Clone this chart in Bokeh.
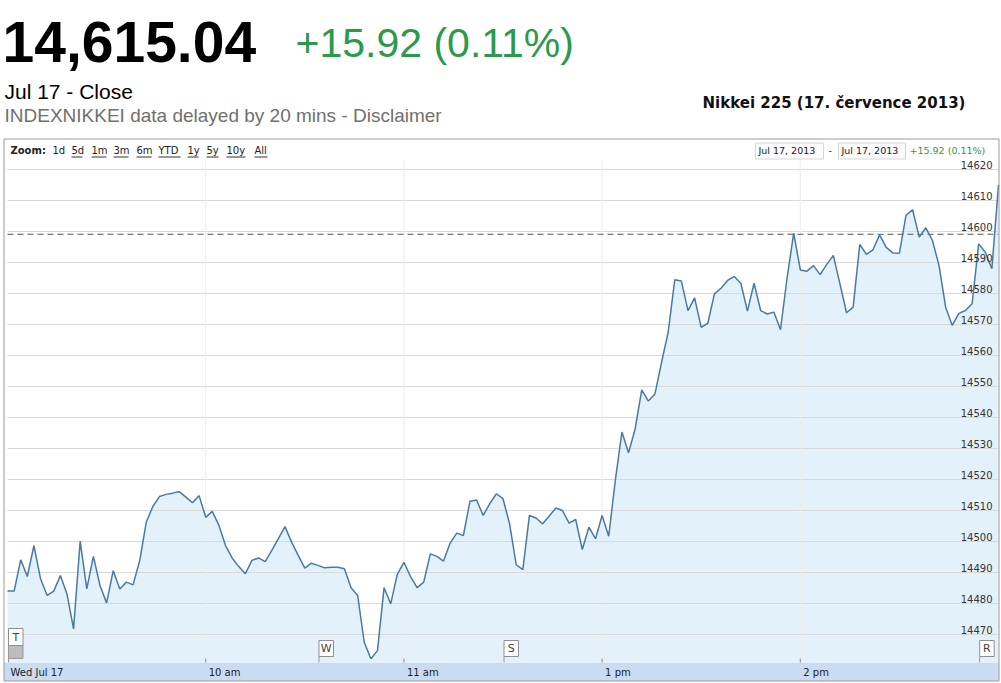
from bokeh.plotting import figure
from bokeh.models import Range1d
from bokeh.core.properties import value
from bokeh.embed import file_html
from bokeh.resources import INLINE

# ---------------- data ----------------
price = [
    14484.0, 14484.0, 14494.1, 14488.7, 14498.7, 14488.0, 14482.6, 14484.0, 14489.0, 14483.1,
    14471.8, 14500.1, 14484.7, 14495.2, 14485.8, 14480.2, 14490.6, 14484.7, 14486.9, 14486.0,
    14493.7, 14506.2, 14511.3, 14514.5, 14515.2, 14515.6, 14516.1, 14514.3, 14512.5, 14514.8,
    14507.8, 14509.7, 14505.2, 14498.7, 14494.7, 14491.9, 14489.6, 14493.9, 14494.7, 14493.5,
    14497.1, 14500.9, 14504.8, 14499.8, 14495.5, 14491.4, 14493.0, 14492.3, 14491.5, 14491.7,
    14491.7, 14491.2, 14485.1, 14482.6, 14467.5, 14462.2, 14464.8, 14485.1, 14479.9, 14489.4,
    14493.3, 14488.7, 14485.1, 14486.9, 14496.0, 14495.2, 14493.7, 14499.5, 14502.7, 14501.9,
    14513.0, 14513.4, 14508.4, 14512.2, 14515.4, 14513.8, 14505.7, 14492.5, 14490.9, 14508.4,
    14507.6, 14505.7, 14508.2, 14510.8, 14510.0, 14505.9, 14507.1, 14497.4, 14504.6, 14500.9,
    14508.4, 14501.7, 14519.7, 14535.3, 14528.6, 14536.3, 14548.9, 14545.3, 14547.6, 14557.8,
    14567.5, 14584.4, 14584.0, 14574.5, 14578.6, 14569.1, 14570.4, 14579.9, 14581.7, 14584.2,
    14585.5, 14583.3, 14574.3, 14583.3, 14574.5, 14573.4, 14574.0, 14568.3, 14585.0, 14599.5,
    14587.6, 14587.2, 14589.0, 14586.1, 14589.4, 14592.3, 14583.1, 14573.8, 14575.6, 14595.8,
    14592.6, 14594.1, 14598.9, 14594.9, 14593.1, 14593.0, 14605.2, 14607.0, 14598.2, 14601.2,
    14597.1, 14589.0, 14575.6, 14569.7, 14573.6, 14574.5, 14576.7, 14596.0, 14593.3, 14588.0,
    14615.04,
]
# trading minutes since the open (lunch break removed), one quote every 2 minutes
session_minutes = list(range(0, 301, 2))

x_tick_minutes = [0, 60, 120, 180, 240]
x_tick_labels = ["Wed Jul 17", "10 am", "11 am", "1 pm", "2 pm"]
y_ticks = list(range(14470, 14621, 10))

prev_close = 14599.12
last_close_text = "14,615.04"
change_text = "+15.92 (0.11%)"
date_line = "Jul 17 - Close"
source_line = "INDEXNIKKEI data delayed by 20 mins - Disclaimer"
chart_title = "Nikkei 225 (17. července 2013)"
date_from = "Jul 17, 2013"
date_to = "Jul 17, 2013"

zoom_links = ["1d", "5d", "1m", "3m", "6m", "YTD", "1y", "5y", "10y", "All"]
zoom_underlined = [False, True, True, True, True, True, True, True, True, True]

flag_minutes = [0, 94, 150, 294]
flag_letters = ["T", "W", "S", "R"]

# ---------------- geometry (canvas px, origin top-left) ----------------
W, H = 1000, 682
PL, PR = 7.0, 998.0      # plot area
PT, PB = 160.0, 662.0
ppx = (PR - PL) / 300.0  # px per trading minute
ppy = 3.1                # px per index point
YREF_VAL, YREF_C = 14600.0, 231.0


def X(c):
    return (c - PL) / ppx


def Y(c):
    return YREF_VAL + (YREF_C - c) / ppy


CHART_FONT = "DejaVu Sans"
HEAD_FONT = "Liberation Sans"

p = figure(width=W, height=H, x_range=Range1d(X(0), X(W)), y_range=Range1d(Y(H), Y(0)),
           output_backend="svg", toolbar_location=None, min_border=0,
           x_axis_location=None, y_axis_location=None)
p.grid.visible = False
p.outline_line_color = None
p.background_fill_color = "white"
p.border_fill_color = "white"


def txt(cx, cy, text, font, size, color="#000000", style="normal", align="left"):
    # cy is the vertical centre of the text
    p.text(x=[X(cx)], y=[Y(cy)], text=[text], text_font=value(font),
           text_font_size=value(size), text_font_style=style, text_color=color,
           text_align=align, text_baseline="middle")


# ---------------- header ----------------
txt(2, 41.5, last_close_text, HEAD_FONT, "57px", "#000000", "bold")
txt(295, 42, change_text, HEAD_FONT, "41px", "#2b9a4a")
txt(4, 91, date_line, HEAD_FONT, "21px", "#000000")
txt(4, 115, source_line, HEAD_FONT, "19px", "#707070")
txt(702, 102, chart_title, CHART_FONT, "15px", "#111111", "bold")

# ---------------- chart ----------------
# axis band
p.quad(left=X(3.5), right=X(998.5), bottom=Y(680.5), top=Y(PB), fill_color="#c9dcf2",
       line_color=None)

# area under the line
p.varea(x=session_minutes, y1=Y(PB), y2=price, fill_color="#e3f1fb")

# horizontal grid lines
p.segment(x0=[X(PL)] * len(y_ticks), x1=[X(PR)] * len(y_ticks), y0=y_ticks, y1=y_ticks,
          line_color="#d9d9d9", line_width=1)
# vertical grid lines at the time ticks
p.segment(x0=x_tick_minutes[1:], x1=x_tick_minutes[1:], y0=[Y(PT)] * 4, y1=[Y(PB)] * 4,
          line_color="#ececec", line_width=1)
# tick marks
p.segment(x0=x_tick_minutes[1:], x1=x_tick_minutes[1:], y0=[Y(PB - 4)] * 4, y1=[Y(PB)] * 4,
          line_color="#8c8c8c", line_width=1)

# previous close
p.segment(x0=[X(PL)], x1=[X(PR)], y0=[prev_close], y1=[prev_close], line_color="#555555",
          line_width=1.2, line_dash="6 4")

# price line
p.line(session_minutes, price, line_color="#4a7aa3", line_width=1.5)

# y tick labels inside plot, right side
p.text(x=[X(992)] * len(y_ticks), y=y_ticks, text=[str(v) for v in y_ticks],
       text_align="right", text_baseline="bottom", y_offset=-1,
       text_font=value(CHART_FONT), text_font_size=value("10px"), text_color="#333333")

# x tick labels in the band
p.text(x=x_tick_minutes, y=[Y(672)] * len(x_tick_minutes), text=x_tick_labels,
       text_align="left", text_baseline="middle", x_offset=3,
       text_font=value(CHART_FONT), text_font_size=value("10px"), text_color="#222222")

# zoom bar
txt(10, 150, "Zoom:", CHART_FONT, "10px", "#222222", "bold")
zoom_ref_x = [52, 71, 91, 113, 136, 158, 187, 206, 226, 254]
zoom_ref_end = [63, 82, 106, 128, 151, 180, 198, 218, 245, 267]
for t, u, a, b in zip(zoom_links, zoom_underlined, zoom_ref_x, zoom_ref_end):
    txt(a, 150, t, CHART_FONT, "10px", "#222222")
    if u:
        p.segment(x0=[X(a)], x1=[X(b)], y0=[Y(156.5)], y1=[Y(156.5)],
                  line_color="#333333", line_width=1)

# date range boxes
for a, b, t in [(755, 823, date_from), (838, 905, date_to)]:
    p.quad(left=X(a), right=X(b), top=Y(142.5), bottom=Y(158.5), fill_color="#fbfbfb",
           line_color="#d6d6d6", line_width=1)
    txt(a + 3, 150, t, CHART_FONT, "9.5px", "#222222")
txt(828, 150, "-", CHART_FONT, "9.5px", "#222222")
txt(909, 150, change_text, CHART_FONT, "9.5px", "#2b9a4a")

# event flags
fl = [PL + m * ppx + 1.0 for m in flag_minutes]
fr = [c + 14.5 for c in fl]
ftop = [628 if t == "T" else 640 for t in flag_letters]
fbot = [645 if t == "T" else 656 for t in flag_letters]
p.segment(x0=[X(c) for c in fl], x1=[X(c) for c in fl], y0=[Y(b) for b in fbot],
          y1=[Y(PB)] * len(fl), line_color="#9a9a9a", line_width=1)
p.quad(left=[X(fl[0])], right=[X(fr[0])], top=[Y(645)], bottom=[Y(658)],
       fill_color="#bdbdbd", line_color="#9a9a9a", line_width=1)
p.quad(left=[X(c) for c in fl], right=[X(c) for c in fr], top=[Y(t) for t in ftop],
       bottom=[Y(b) for b in fbot], fill_color="#ffffff", line_color="#8f8f8f", line_width=1)
p.text(x=[X((a + b) / 2) for a, b in zip(fl, fr)], y=[Y((t + b) / 2) for t, b in zip(ftop, fbot)],
       text=flag_letters, text_align="center", text_baseline="middle",
       text_font=value(CHART_FONT), text_font_size=value("11px"), text_color="#444444")

# outer frame
p.quad(left=X(3.5), right=X(998.5), top=Y(138.5), bottom=Y(680.5), fill_color=None,
       line_color="#9a9a9a", line_width=1)

open("out.html", "w").write(file_html(p, INLINE))
